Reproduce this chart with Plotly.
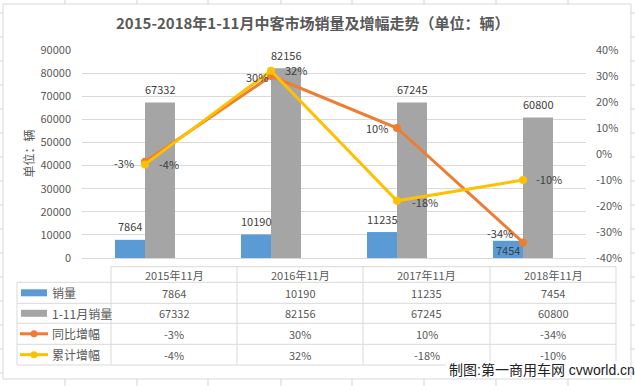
import plotly.graph_objects as go

# ---------------- data ----------------
categories = ["2015年11月", "2016年11月", "2017年11月", "2018年11月"]
monthly_sales = [7864, 10190, 11235, 7454]
ytd_sales = [67332, 82156, 67245, 60800]
yoy_growth = [-0.03, 0.30, 0.10, -0.34]
ytd_growth = [-0.04, 0.32, -0.18, -0.10]
series_names = ["销量", "1-11月销量", "同比增幅", "累计增幅"]
left_ticks = [0, 10000, 20000, 30000, 40000, 50000, 60000, 70000, 80000, 90000]
right_ticks = [-0.4, -0.3, -0.2, -0.1, 0.0, 0.1, 0.2, 0.3, 0.4]
title_text = "2015-2018年1-11月中客市场销量及增幅走势（单位：辆）"
axis_title_text = "单位：辆"
watermark_text = "制图:第一商用车网 cvworld.cn"

# ---------------- style ----------------
BLUE, GRAY, ORANGE, YELLOW = "#5B9BD5", "#A5A5A5", "#ED7D31", "#FFC000"
TXT = "#595959"
LBL = "#404040"
GRID = "#d9d9d9"
SHEET = "#d4d4d4"
FONT = "Noto Sans CJK SC"
WM_FONT = "Liberation Sans, Noto Sans CJK SC"

W, H = 635, 386
L, R, T, B = 82, 586, 50, 258


def fx(p):
    return (p - L) / (R - L)


def fy(p):
    return (B - p) / (B - T)


def pct(v):
    return f"{round(v * 100):d}%"


fig = go.Figure()
fig.add_bar(x=categories, y=monthly_sales, name=series_names[0],
            marker=dict(color=BLUE, line=dict(width=0)))
fig.add_bar(x=categories, y=ytd_sales, name=series_names[1],
            marker=dict(color=GRAY, line=dict(width=0)))
fig.add_scatter(x=categories, y=yoy_growth, name=series_names[2], yaxis="y2",
                mode="lines+markers", line=dict(color=ORANGE, width=3),
                marker=dict(color=ORANGE, size=8))
fig.add_scatter(x=categories, y=ytd_growth, name=series_names[3], yaxis="y2",
                mode="lines+markers", line=dict(color=YELLOW, width=3),
                marker=dict(color=YELLOW, size=8))

shapes = []
annotations = []

# spreadsheet grid outside the chart
for xv in [65, 137, 208, 281, 352, 424, 496, 568]:
    shapes.append(dict(type="line", xref="paper", yref="paper", x0=fx(xv), x1=fx(xv),
                       y0=fy(0), y1=fy(4), line=dict(color=SHEET, width=1)))
    shapes.append(dict(type="line", xref="paper", yref="paper", x0=fx(xv), x1=fx(xv),
                       y0=fy(379), y1=fy(386), line=dict(color=SHEET, width=1)))
for yv in [13, 37, 61, 85, 109, 133, 157, 181, 205, 229, 253, 277, 301, 325, 349, 373]:
    shapes.append(dict(type="line", xref="paper", yref="paper", x0=fx(0), x1=fx(3),
                       y0=fy(yv), y1=fy(yv), line=dict(color=SHEET, width=1)))
    shapes.append(dict(type="line", xref="paper", yref="paper", x0=fx(631), x1=fx(635),
                       y0=fy(yv), y1=fy(yv), line=dict(color=SHEET, width=1)))
# chart frame
shapes.append(dict(type="rect", xref="paper", yref="paper", x0=fx(3), x1=fx(631),
                   y0=fy(4), y1=fy(379), line=dict(color=GRID, width=1), layer="below"))

# data table
row_lines = [266.7, 282.3, 303.3, 323.3, 344.3, 365]
col_lines = [111, 237, 363, 490, 616]
shapes.append(dict(type="line", xref="paper", yref="paper", x0=fx(111), x1=fx(616),
                   y0=fy(row_lines[0]), y1=fy(row_lines[0]), line=dict(color=GRID, width=1)))
for yv in row_lines[1:]:
    shapes.append(dict(type="line", xref="paper", yref="paper", x0=fx(17), x1=fx(616),
                       y0=fy(yv), y1=fy(yv), line=dict(color=GRID, width=1)))
shapes.append(dict(type="line", xref="paper", yref="paper", x0=fx(17), x1=fx(17),
                   y0=fy(row_lines[1]), y1=fy(row_lines[-1]), line=dict(color=GRID, width=1)))
for xv in col_lines:
    shapes.append(dict(type="line", xref="paper", yref="paper", x0=fx(xv), x1=fx(xv),
                       y0=fy(row_lines[0]), y1=fy(row_lines[-1]), line=dict(color=GRID, width=1)))

row_centers = [(row_lines[i] + row_lines[i + 1]) / 2 for i in range(len(row_lines) - 1)]
col_centers = [(col_lines[i] + col_lines[i + 1]) / 2 for i in range(len(col_lines) - 1)]

# header
for c, cat in zip(col_centers, categories):
    annotations.append(dict(xref="paper", yref="paper", x=fx(c), y=fy(row_centers[0]),
                            text=cat, showarrow=False, xanchor="center", yanchor="middle",
                            font=dict(size=11, color=TXT, family=FONT)))
table_rows = [
    [str(v) for v in monthly_sales],
    [str(v) for v in ytd_sales],
    [pct(v) for v in yoy_growth],
    [pct(v) for v in ytd_growth],
]
for r, vals in enumerate(table_rows):
    yc = row_centers[r + 1]
    for c, t in zip(col_centers, vals):
        annotations.append(dict(xref="paper", yref="paper", x=fx(c), y=fy(yc), text=t,
                                showarrow=False, xanchor="center", yanchor="middle",
                                font=dict(size=11, color=TXT, family=FONT)))
    annotations.append(dict(xref="paper", yref="paper", x=fx(50), y=fy(yc), text=series_names[r],
                            showarrow=False, xanchor="left", yanchor="middle",
                            font=dict(size=12, color=TXT, family=FONT)))

# legend keys in table
for r, col in enumerate([BLUE, GRAY]):
    yc = row_centers[r + 1]
    shapes.append(dict(type="rect", xref="paper", yref="paper", x0=fx(21), x1=fx(47),
                       y0=fy(yc - 3.5), y1=fy(yc + 3.5), fillcolor=col, line=dict(width=0)))
for r, col in enumerate([ORANGE, YELLOW]):
    yc = row_centers[r + 3]
    shapes.append(dict(type="line", xref="paper", yref="paper", x0=fx(20), x1=fx(48),
                       y0=fy(yc), y1=fy(yc), line=dict(color=col, width=3)))
    shapes.append(dict(type="circle", xref="paper", yref="paper", x0=fx(30.5), x1=fx(37.5),
                       y0=fy(yc - 3.5), y1=fy(yc + 3.5), fillcolor=col, line=dict(width=0)))

# watermark cover
shapes.append(dict(type="rect", xref="paper", yref="paper", x0=fx(446), x1=fx(629),
                   y0=fy(361.5), y1=fy(377.5), fillcolor="white", line=dict(width=0)))
annotations.append(dict(xref="paper", yref="paper", x=fx(447), y=fy(369.5), text=watermark_text,
                        showarrow=False, xanchor="left", yanchor="middle",
                        font=dict(size=14, color="#222222", family=WM_FONT)))

# title and axis title
annotations.append(dict(xref="paper", yref="paper", x=fx(312), y=fy(22), text=f"<b>{title_text}</b>",
                        showarrow=False, xanchor="center", yanchor="middle",
                        font=dict(size=15, color=TXT, family=FONT)))
annotations.append(dict(xref="paper", yref="paper", x=fx(27.5), y=fy(154), text=axis_title_text,
                        textangle=-90, showarrow=False, xanchor="center", yanchor="middle",
                        font=dict(size=12, color=TXT, family=FONT)))

# bar data labels
blue_dy = [13.5, 13.5, 13.5, -9]
gray_dy = [13.5, 13.5, 13.5, 13.5]
for i, cat in enumerate(categories):
    annotations.append(dict(x=cat, y=monthly_sales[i], xref="x", yref="y", xshift=-15,
                            yshift=blue_dy[i], text=str(monthly_sales[i]), showarrow=False,
                            xanchor="center", yanchor="middle",
                            font=dict(size=11, color=LBL, family=FONT)))
    annotations.append(dict(x=cat, y=ytd_sales[i], xref="x", yref="y", xshift=15,
                            yshift=gray_dy[i], text=str(ytd_sales[i]), showarrow=False,
                            xanchor="center", yanchor="middle",
                            font=dict(size=11, color=LBL, family=FONT)))

# line data labels
orange_dx = [-9, -1, -7, -8]
orange_dy = [-1, -1, 0, 9.5]
yellow_dx = [12, 12, 13, 11]
yellow_dy = [0, 1, -1, 1]
for i, cat in enumerate(categories):
    annotations.append(dict(x=cat, y=yoy_growth[i], xref="x", yref="y2", xshift=orange_dx[i],
                            yshift=orange_dy[i], text=pct(yoy_growth[i]), showarrow=False,
                            xanchor="right", yanchor="middle",
                            font=dict(size=11, color=LBL, family=FONT)))
    annotations.append(dict(x=cat, y=ytd_growth[i], xref="x", yref="y2", xshift=yellow_dx[i],
                            yshift=yellow_dy[i], text=pct(ytd_growth[i]), showarrow=False,
                            xanchor="left", yanchor="middle",
                            font=dict(size=11, color=LBL, family=FONT)))

fig.update_layout(
    width=W, height=H,
    margin=dict(l=L, r=W - R, t=T, b=H - B, pad=0),
    paper_bgcolor="white", plot_bgcolor="white",
    font=dict(family=FONT, color=TXT),
    barmode="group", bargap=0.524, bargroupgap=0,
    showlegend=False, hovermode=False,
    xaxis=dict(type="category", range=[-0.5, 3.5], showticklabels=False, showgrid=False,
               zeroline=False, showline=False, ticks=""),
    yaxis=dict(range=[0, 90000], tickvals=left_ticks, ticktext=[str(v) for v in left_ticks],
               showgrid=True, gridcolor=GRID, gridwidth=1, zeroline=True, zerolinecolor=GRID,
               zerolinewidth=1, showline=False, ticks="", ticklabelstandoff=10,
               tickfont=dict(size=11, color=TXT, family=FONT)),
    yaxis2=dict(range=[-0.4, 0.4], overlaying="y", side="right", tickvals=right_ticks,
                ticktext=[pct(v) for v in right_ticks], showgrid=False, zeroline=False,
                showline=False, ticks="", ticklabelstandoff=9,
                tickfont=dict(size=11, color=TXT, family=FONT)),
    shapes=shapes,
    annotations=annotations,
)

fig.write_html("out.html", config={"displayModeBar": False},
               post_script="document.body.style.margin='0';document.body.style.padding='0';")
